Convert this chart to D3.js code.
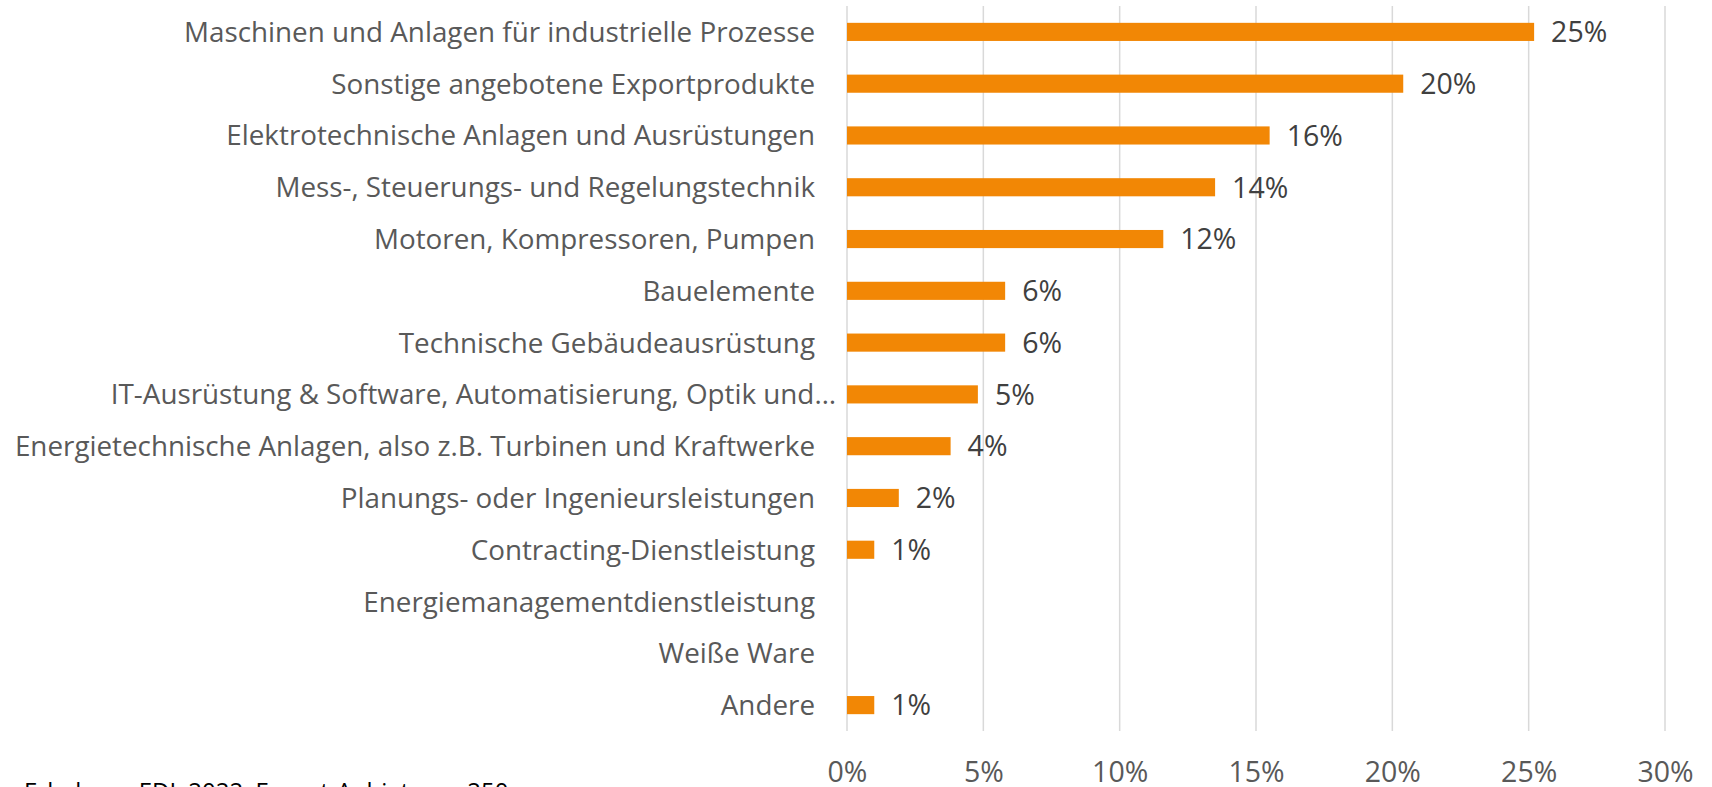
<!DOCTYPE html>
<html>
<head>
<meta charset="utf-8">
<script src="https://cdn.jsdelivr.net/npm/d3@7"></script>
<style>
  html, body { margin: 0; padding: 0; background: #fff; overflow: hidden; }
  svg { display: block; font-family: "Open Sans", Lato, sans-serif; }
</style>
</head>
<body>
<svg id="chart" width="1712" height="787"></svg>
<script>
// Kategorien (von oben nach unten) und Anteile in Prozent
const categories = [
  "Maschinen und Anlagen für industrielle Prozesse",
  "Sonstige angebotene Exportprodukte",
  "Elektrotechnische Anlagen und Ausrüstungen",
  "Mess-, Steuerungs- und Regelungstechnik",
  "Motoren, Kompressoren, Pumpen",
  "Bauelemente",
  "Technische Gebäudeausrüstung",
  "IT-Ausrüstung & Software, Automatisierung, Optik und…",
  "Energietechnische Anlagen, also z.B. Turbinen und Kraftwerke",
  "Planungs- oder Ingenieursleistungen",
  "Contracting-Dienstleistung",
  "Energiemanagementdienstleistung",
  "Weiße Ware",
  "Andere"
];
const values = [25.2, 20.4, 15.5, 13.5, 11.6, 5.8, 5.8, 4.8, 3.8, 1.9, 1.0, 0, 0, 1.0];
const valueLabels = ["25%", "20%", "16%", "14%", "12%", "6%", "6%", "5%", "4%", "2%", "1%", "", "", "1%"];
const xTicks = [0, 5, 10, 15, 20, 25, 30];
const sourceNote = "Erhebung EDL 2022, Export-Anbieter n=250";

const FONT = "'Open Sans', Lato, sans-serif";
const svg = d3.select("#chart");
const plot = { left: 847, right: 1665, top: 6, bottom: 731 };

const x = d3.scaleLinear().domain([0, 30]).range([plot.left, plot.right]);
const y = d3.scaleBand().domain(categories).range([plot.top, plot.bottom]).paddingInner(0.65).paddingOuter(0.325);

const data = categories.map((c, i) => ({ cat: c, v: values[i], lab: valueLabels[i] }));

// Gitterlinien
svg.append("g")
  .selectAll("line")
  .data(xTicks)
  .join("line")
    .attr("x1", d => x(d)).attr("x2", d => x(d))
    .attr("y1", plot.top).attr("y2", plot.bottom)
    .attr("stroke", "#d9d9d9")
    .attr("stroke-width", 1.5);

// Balken
svg.append("g")
  .selectAll("rect")
  .data(data.filter(d => d.v > 0))
  .join("rect")
    .attr("x", x(0))
    .attr("y", d => y(d.cat))
    .attr("width", d => x(d.v) - x(0))
    .attr("height", y.bandwidth())
    .attr("fill", "#f28705");

// Wertebeschriftungen
svg.append("g")
  .selectAll("text")
  .data(data.filter(d => d.lab))
  .join("text")
    .attr("x", d => x(d.v) + 17)
    .attr("y", d => y(d.cat) + y.bandwidth() / 2)
    .attr("dy", "0.36em")
    .attr("font-family", FONT)
    .attr("font-size", 28.5)
    .attr("fill", "#404040")
    .text(d => d.lab);

// Kategorienachse
const yAxis = svg.append("g")
  .attr("transform", `translate(${plot.left},0)`)
  .call(d3.axisLeft(y).tickSize(0).tickPadding(32));
yAxis.attr("font-family", FONT);
yAxis.select(".domain").remove();
yAxis.selectAll("text")
  .attr("font-size", 27.8)
  .attr("fill", "#595959")
  .attr("dy", "0.36em")
  .attr("x", d => d.endsWith("…") ? -11 : -32);

// x-Achse (Beschriftungen)
const xAxis = svg.append("g")
  .attr("transform", `translate(0,${plot.bottom})`)
  .call(d3.axisBottom(x).tickValues(xTicks).tickSize(0).tickPadding(0).tickFormat(d => d + "%"));
xAxis.attr("font-family", FONT);
xAxis.select(".domain").remove();
xAxis.selectAll("text")
  .attr("dy", null)
  .attr("y", 51)
  .attr("font-size", 28.5)
  .attr("fill", "#595959");

// Quelle (unten abgeschnitten wie im Original)
svg.append("text")
  .attr("x", 24)
  .attr("y", 800)
  .attr("font-family", FONT)
  .attr("font-size", 24)
  .attr("fill", "#000")
  .text(sourceNote);
</script>
</body>
</html>
